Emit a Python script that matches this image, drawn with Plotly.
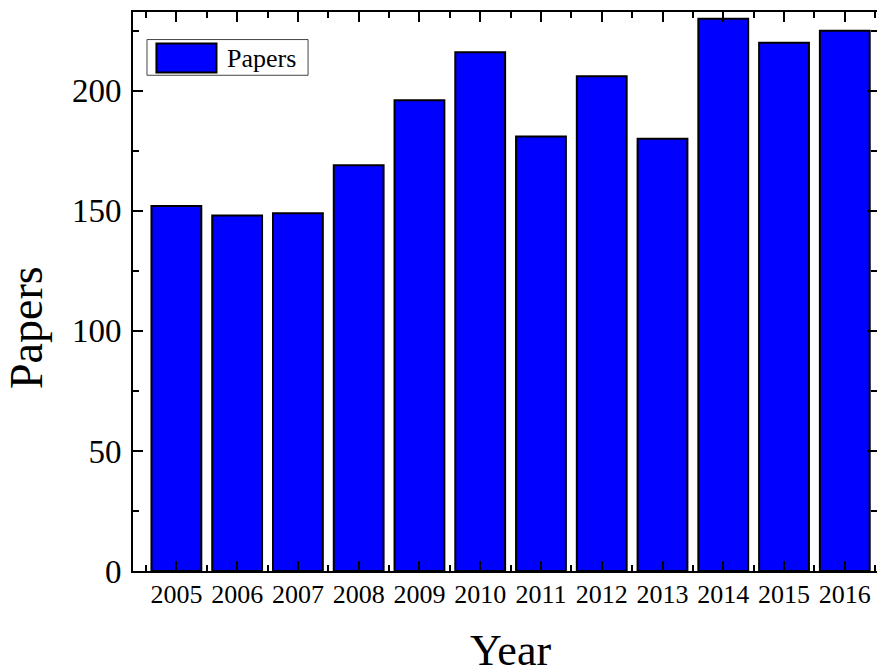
import plotly.graph_objects as go

years = [2005, 2006, 2007, 2008, 2009, 2010, 2011, 2012, 2013, 2014, 2015, 2016]
papers = [152, 148, 149, 169, 196, 216, 181, 206, 180, 230, 220, 225]
y_ticks = [0, 50, 100, 150, 200]
series_name = "Papers"
x_title = "Year"
y_title = "Papers"

FONT = "Liberation Serif, Times New Roman, serif"

fig = go.Figure()
fig.add_trace(go.Bar(
    x=years, y=papers, name=series_name, width=0.82,
    marker=dict(color="#0000FF", line=dict(color="black", width=2)),
    showlegend=False,
))

axis_common = dict(
    showline=True, linecolor="black", linewidth=2, mirror="ticks",
    ticks="inside", ticklen=10, tickwidth=2, tickcolor="black",
    showgrid=False, zeroline=False, automargin=False,
)

fig.update_xaxes(
    **axis_common,
    range=[2004.286, 2016.53],
    tickmode="array", tickvals=years, ticktext=[str(y) for y in years],
    tickfont=dict(family=FONT, size=26, color="black"),
    minor=dict(tickmode="linear", tick0=2004.5, dtick=1, ticks="inside",
               ticklen=6, tickwidth=2, tickcolor="black"),
    ticklabelstandoff=-1,
)
fig.update_yaxes(
    **axis_common,
    range=[0, 232.8],
    tickmode="array", tickvals=y_ticks,
    tickfont=dict(family=FONT, size=33, color="black"),
    minor=dict(tickmode="linear", tick0=25, dtick=50, ticks="inside",
               ticklen=6, tickwidth=2, tickcolor="black"),
    ticklabelstandoff=3,
)

# axis titles
fig.add_annotation(xref="paper", yref="paper", x=0.507, y=-0.1395, yshift=-2,
                   text=x_title, showarrow=False, xanchor="center", yanchor="middle",
                   font=dict(family=FONT, size=44, color="black"))
fig.add_annotation(xref="paper", yref="paper", x=-0.1425, y=0.4365,
                   text=y_title, showarrow=False, textangle=-90,
                   xanchor="center", yanchor="middle",
                   font=dict(family=FONT, size=46, color="black"))

# legend box drawn in paper coordinates
fig.add_shape(type="rect", xref="paper", yref="paper",
              x0=0.0188, x1=0.2353, y0=0.8868, y1=0.9507,
              line=dict(color="#444444", width=1), fillcolor="white")
fig.add_shape(type="rect", xref="paper", yref="paper",
              x0=0.0315, x1=0.1122, y0=0.8916, y1=0.9435,
              line=dict(color="black", width=2), fillcolor="#0000FF")
fig.add_annotation(xref="paper", yref="paper", x=0.1234, y=0.9172,
                   text=series_name, showarrow=False, xanchor="left", yanchor="middle",
                   font=dict(family=FONT, size=26, color="black"))

# the page has an 8px body margin, so the figure is sized to fit the window
fig.update_layout(
    width=877, height=661,
    margin=dict(l=125, r=8, t=4, b=98),
    plot_bgcolor="white", paper_bgcolor="white",
)

fig.write_html("out.html")
